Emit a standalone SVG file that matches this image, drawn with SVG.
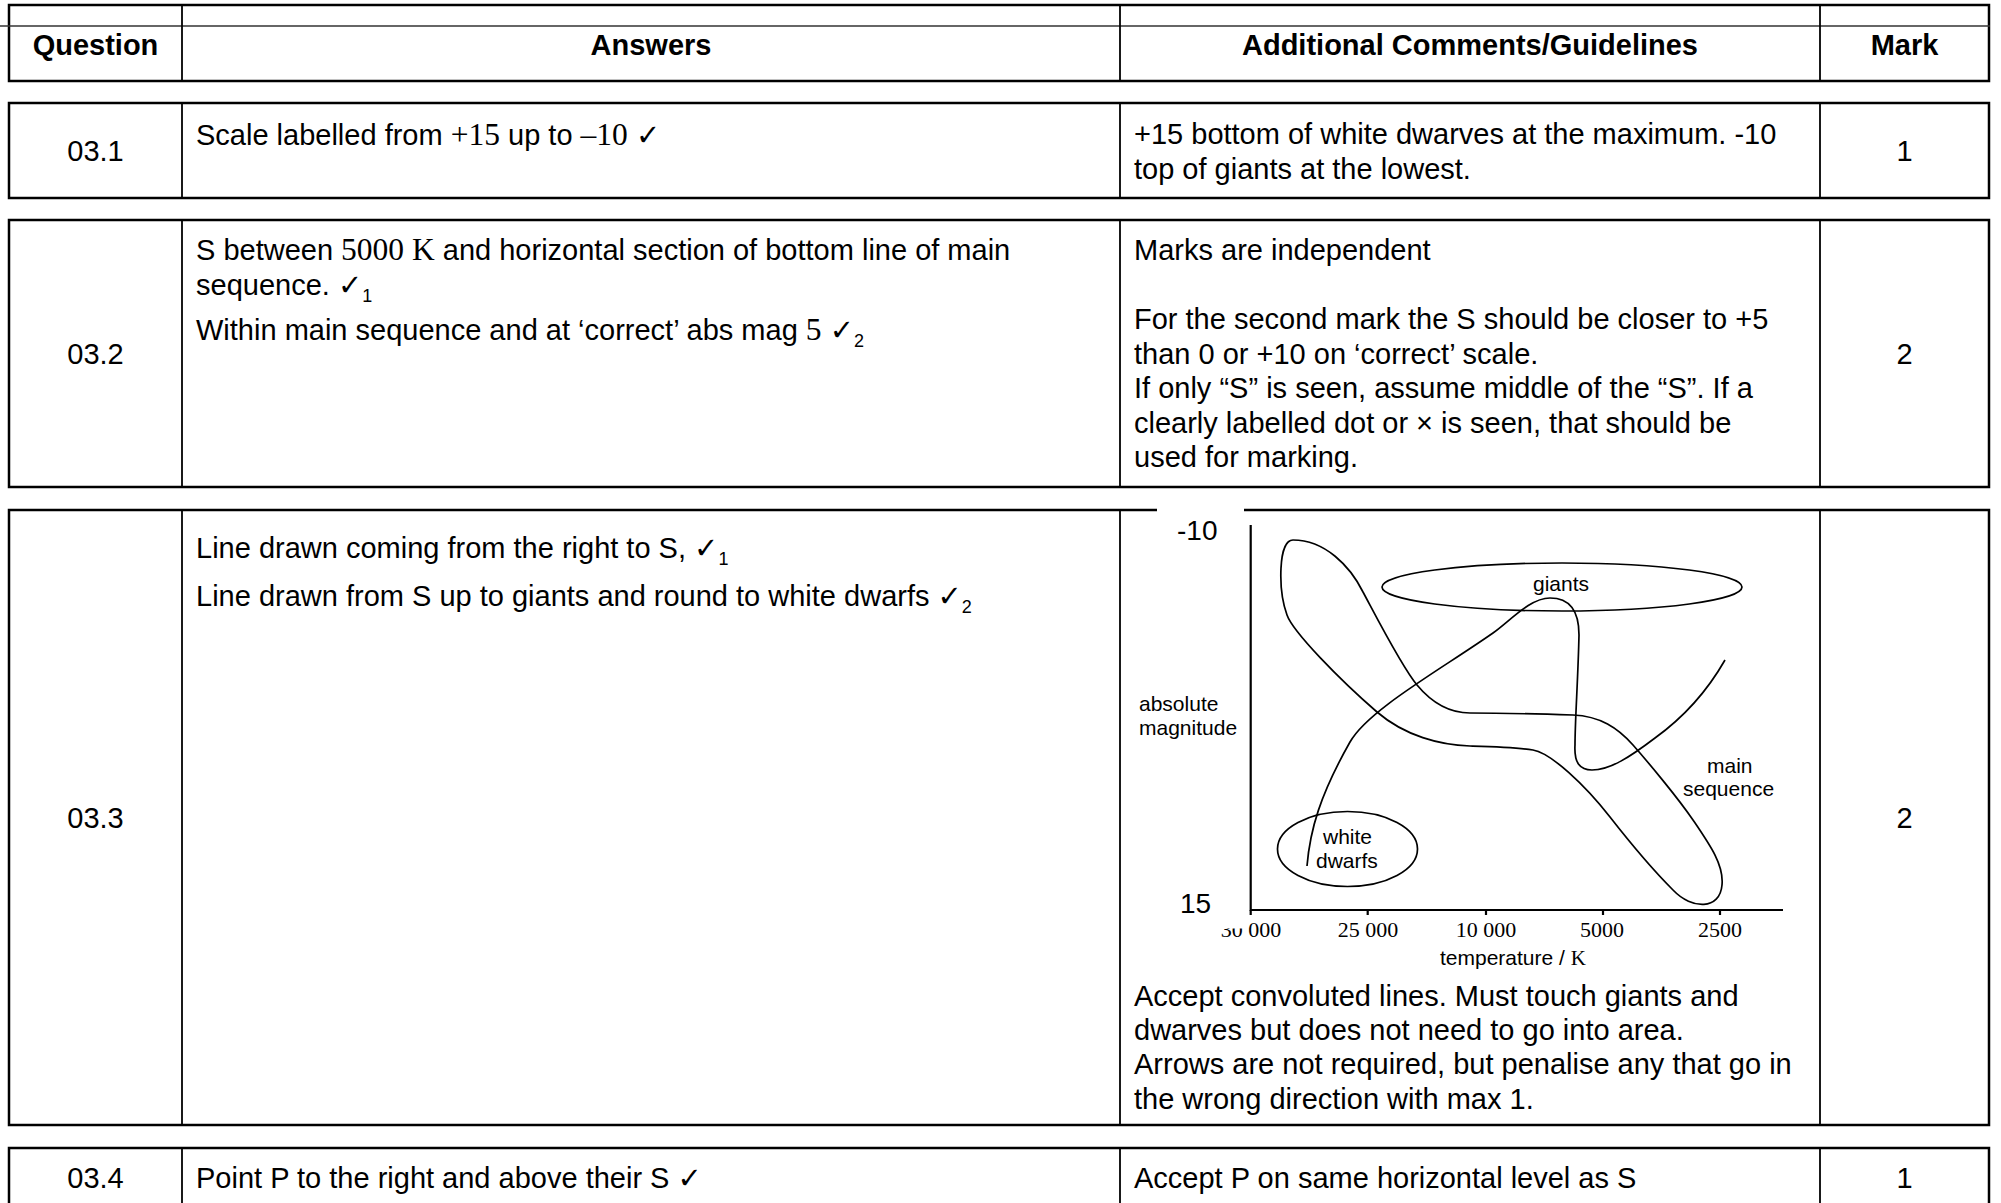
<svg xmlns="http://www.w3.org/2000/svg" width="2001" height="1203" viewBox="0 0 2001 1203">
<style>
.b{fill:none;stroke:#000;stroke-width:2.5}
.d{stroke:#000;stroke-width:1.8}
.t{font-family:"Liberation Sans",Arial,sans-serif;font-size:29px;fill:#000}
.h{font-weight:bold}
.c{text-anchor:middle}
.s{font-family:"Liberation Serif","Times New Roman",serif}
.s2{font-family:"Liberation Serif","Times New Roman",serif;font-size:31.5px}
.ck{font-family:"DejaVu Sans",sans-serif;font-size:29px}
.sub{font-size:18px}
.p{fill:none;stroke:#000;stroke-width:1.7}
.ax{fill:none;stroke:#000;stroke-width:2.2}
.pl{font-family:"Liberation Sans",Arial,sans-serif;font-size:21px;fill:#000}
.big{font-family:"Liberation Sans",Arial,sans-serif;font-size:28px;fill:#000}
.tk{font-family:"Liberation Serif","Times New Roman",serif;font-size:22px;text-anchor:middle;fill:#000}
</style>
<rect width="2001" height="1203" fill="#fff"/>

<g id="header">
  <rect class="b" x="9" y="5" width="1980" height="76"/>
  <line x1="0" y1="26" x2="1990" y2="26" stroke="#333" stroke-width="1.5"/>
  <line class="d" x1="182" y1="5" x2="182" y2="81"/>
  <line class="d" x1="1120" y1="5" x2="1120" y2="81"/>
  <line class="d" x1="1820" y1="5" x2="1820" y2="81"/>
  <text class="t h c" x="95.5" y="55">Question</text>
  <text class="t h c" x="651" y="55">Answers</text>
  <text class="t h c" x="1470" y="55">Additional Comments/Guidelines</text>
  <text class="t h c" x="1904.5" y="55">Mark</text>
</g>

<g id="row-03-1">
  <rect class="b" x="9" y="103" width="1980" height="95"/>
  <line class="d" x1="182" y1="103" x2="182" y2="198"/>
  <line class="d" x1="1120" y1="103" x2="1120" y2="198"/>
  <line class="d" x1="1820" y1="103" x2="1820" y2="198"/>
  <text class="t c" x="95.5" y="161">03.1</text>
  <text class="t" x="196" y="145">Scale labelled from <tspan class="s2">+15</tspan> up to <tspan class="s2">–10</tspan> <tspan class="ck">✓</tspan></text>
  <text class="t" x="1134" y="144">+15 bottom of white dwarves at the maximum. -10</text>
  <text class="t" x="1134" y="178.5">top of giants at the lowest.</text>
  <text class="t c" x="1904.5" y="161">1</text>
</g>

<g id="row-03-2">
  <rect class="b" x="9" y="220" width="1980" height="267"/>
  <line class="d" x1="182" y1="220" x2="182" y2="487"/>
  <line class="d" x1="1120" y1="220" x2="1120" y2="487"/>
  <line class="d" x1="1820" y1="220" x2="1820" y2="487"/>
  <text class="t c" x="95.5" y="364">03.2</text>
  <text class="t" x="196" y="260">S between <tspan class="s2">5000 K</tspan> and horizontal section of bottom line of main</text>
  <text class="t" x="196" y="294.5">sequence. <tspan class="ck">✓</tspan><tspan class="sub" dy="7">1</tspan></text>
  <text class="t" x="196" y="340">Within main sequence and at ‘correct’ abs mag <tspan class="s2">5</tspan> <tspan class="ck">✓</tspan><tspan class="sub" dy="7">2</tspan></text>
  <text class="t" x="1134" y="260">Marks are independent</text>
  <text class="t" x="1134" y="329">For the second mark the S should be closer to +5</text>
  <text class="t" x="1134" y="363.5">than 0 or +10 on ‘correct’ scale.</text>
  <text class="t" x="1134" y="398">If only “S” is seen, assume middle of the “S”. If a</text>
  <text class="t" x="1134" y="432.5">clearly labelled dot or × is seen, that should be</text>
  <text class="t" x="1134" y="467">used for marking.</text>
  <text class="t c" x="1904.5" y="364">2</text>
</g>

<g id="row-03-3">
  <rect class="b" x="9" y="510" width="1980" height="615"/>
  <line class="d" x1="182" y1="510" x2="182" y2="1125"/>
  <line class="d" x1="1120" y1="510" x2="1120" y2="1125"/>
  <line class="d" x1="1820" y1="510" x2="1820" y2="1125"/>
  <text class="t c" x="95.5" y="828">03.3</text>
  <text class="t" x="196" y="557.5">Line drawn coming from the right to S, <tspan class="ck">✓</tspan><tspan class="sub" dy="7">1</tspan></text>
  <text class="t" x="196" y="606">Line drawn from S up to giants and round to white dwarfs <tspan class="ck">✓</tspan><tspan class="sub" dy="7">2</tspan></text>
  <text class="t" x="1134" y="1005.5">Accept convoluted lines. Must touch giants and</text>
  <text class="t" x="1134" y="1040">dwarves but does not need to go into area.</text>
  <text class="t" x="1134" y="1074">Arrows are not required, but penalise any that go in</text>
  <text class="t" x="1134" y="1108.5">the wrong direction with max 1.</text>
  <text class="t c" x="1904.5" y="828">2</text>
</g>

<g id="hr-diagram">
  <rect x="1157" y="505" width="87" height="10" fill="#fff"/>
  <text class="big" x="1177" y="540">-10</text>
  <text class="big" x="1180" y="913">15</text>
  <path class="ax" d="M1250.7 525 V910 H1783"/>
  <path class="ax" d="M1250.7 910 V915 M1367.7 910 V915 M1486 910 V915 M1603 910 V915 M1720 910 V915" stroke-width="1.5"/>
  <text class="tk" x="1251" y="937">30 000</text>
  <rect x="1216" y="916" width="31" height="12.5" fill="#fff"/>
  <text class="tk" x="1368" y="937">25 000</text>
  <text class="tk" x="1486" y="937">10 000</text>
  <text class="tk" x="1602" y="937">5000</text>
  <text class="tk" x="1720" y="937">2500</text>
  <text class="pl" x="1440" y="965">temperature / <tspan class="s">K</tspan></text>
  <text class="pl" x="1139" y="711">absolute</text>
  <text class="pl" x="1139" y="735">magnitude</text>
  <text class="pl" x="1533" y="591">giants</text>
  <text class="pl" x="1707" y="773">main</text>
  <text class="pl" x="1683" y="796">sequence</text>
  <text class="pl" x="1323" y="844">white</text>
  <text class="pl" x="1316" y="868">dwarfs</text>
  <ellipse class="p" cx="1562" cy="587" rx="180" ry="24"/>
  <ellipse class="p" cx="1347.5" cy="849" rx="70" ry="37.5"/>
  <path class="p" d="M1293 540 C1278 540 1278 590 1287 615 C1293 632 1340 680 1377 712 C1405 736 1440 745 1470 746 C1490 746.5 1515 747 1533 750 C1551 753 1585 785 1610 817 C1635 849 1655 872 1673 890 C1692 910 1720 910 1722 885 C1724 865 1710 845 1693 820 C1678 798 1648 762 1633 745 C1618 728 1600 716 1573 715 C1540 714 1500 713 1470 713 C1450 713 1432 703 1417 685 C1402 667 1378 620 1363 592 C1350 566 1325 540 1293 540 Z"/>
  <path class="p" d="M1307 866 C1310 830 1320 795 1350 742 C1368 710 1440 670 1493 633 C1510 621 1530 598 1550 598 C1570 598 1579 612 1579 635 C1578 680 1575 720 1575 745 C1574 763 1580 770 1592 770 C1610 770 1630 757 1655 738 C1680 720 1705 695 1725 660"/>
</g>

<g id="row-03-4">
  <rect class="b" x="9" y="1148" width="1980" height="70"/>
  <line class="d" x1="182" y1="1148" x2="182" y2="1218"/>
  <line class="d" x1="1120" y1="1148" x2="1120" y2="1218"/>
  <line class="d" x1="1820" y1="1148" x2="1820" y2="1218"/>
  <text class="t c" x="95.5" y="1188">03.4</text>
  <text class="t" x="196" y="1188">Point P to the right and above their S <tspan class="ck">✓</tspan></text>
  <text class="t" x="1134" y="1188">Accept P on same horizontal level as S</text>
  <text class="t c" x="1904.5" y="1188">1</text>
</g>
</svg>
